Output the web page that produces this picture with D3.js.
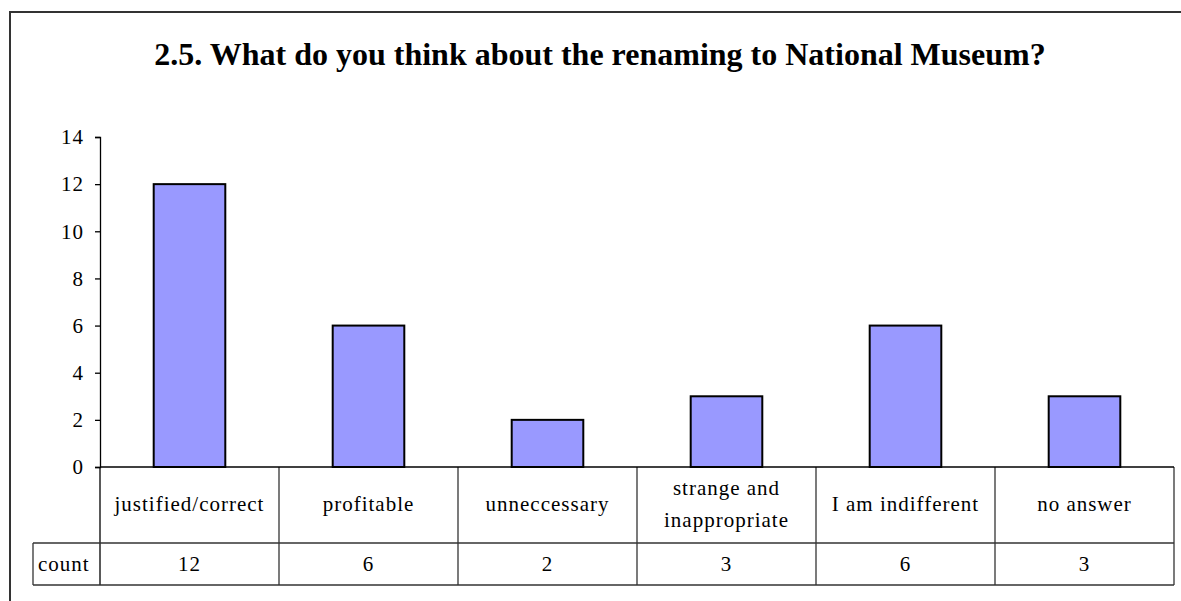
<!DOCTYPE html>
<html>
<head>
<meta charset="utf-8">
<script src="https://cdn.jsdelivr.net/npm/d3@7"></script>
<style>
  html, body { margin: 0; padding: 0; background: #fff; }
  svg text { font-family: "Liberation Serif", "Times New Roman", serif; fill: #000; }
</style>
</head>
<body>
<svg id="chart" width="1181" height="601"></svg>
<script>
// Survey answers and counts
const categories = [
  "justified/correct",
  "profitable",
  "unneccessary",
  "strange and inappropriate",
  "I am indifferent",
  "no answer"
];
const counts = [12, 6, 2, 3, 6, 3];
const seriesName = "count";
const yTicks = [0, 2, 4, 6, 8, 10, 12, 14];
const titleText = "2.5. What do you think about the renaming to National Museum?";

// Label line breaks used inside the data table
const categoryLines = {
  "strange and inappropriate": ["strange and", "inappropriate"]
};

const svg = d3.select("#chart");

// Outer chart frame
svg.append("rect")
  .attr("x", 10).attr("y", 12)
  .attr("width", 1190).attr("height", 620)
  .attr("fill", "none")
  .attr("stroke", "#333")
  .attr("stroke-width", 2);

// Plot geometry
const plotLeft = 100, plotRight = 1174, plotTop = 137, plotBottom = 467;
const catRowBottom = 543, countRowBottom = 585, labelCellLeft = 33;

const y = d3.scaleLinear().domain([0, 14]).range([plotBottom, plotTop]);

// Columns of the data table
const xCol = d3.scaleBand().domain(categories).range([plotLeft, plotRight]).padding(0);
// Bars inside each column
const xBar = d3.scaleBand().domain(categories).range([plotLeft, plotRight])
  .paddingInner(0.6).paddingOuter(0.3);

// Title
svg.append("text")
  .attr("x", 600).attr("y", 65)
  .attr("text-anchor", "middle")
  .style("font-size", "32px")
  .style("font-weight", "bold")
  .text(titleText);

// Y axis
const yAxis = d3.axisLeft(y).tickValues(yTicks).tickSize(5).tickPadding(11);
const gy = svg.append("g")
  .attr("transform", `translate(${plotLeft},0)`)
  .call(yAxis);
gy.attr("font-family", null).attr("font-size", null);
gy.select(".domain").attr("stroke", "#000").attr("stroke-width", 1.3);
gy.selectAll(".tick line").attr("stroke", "#000").attr("stroke-width", 1.3);
gy.selectAll(".tick text")
  .style("font-size", "21px")
  .style("letter-spacing", "1px");

// Bars
svg.append("g").selectAll("rect")
  .data(categories)
  .join("rect")
  .attr("x", d => xBar(d))
  .attr("y", (d, i) => y(counts[i]))
  .attr("width", xBar.bandwidth())
  .attr("height", (d, i) => y(0) - y(counts[i]))
  .attr("fill", "#9999FF")
  .attr("stroke", "#000")
  .attr("stroke-width", 2);

// Data table grid
const grid = svg.append("g").attr("stroke", "#333").attr("stroke-width", 1.3).attr("fill", "none");
// vertical column separators
grid.selectAll("line.col")
  .data(categories)
  .join("line")
  .attr("class", "col")
  .attr("x1", d => xCol(d) + xCol.bandwidth())
  .attr("x2", d => xCol(d) + xCol.bandwidth())
  .attr("y1", plotBottom).attr("y2", countRowBottom);
// y axis continues through the table
grid.append("line")
  .attr("x1", plotLeft).attr("x2", plotLeft)
  .attr("y1", plotBottom).attr("y2", countRowBottom)
  .attr("stroke", "#000");
// row lines
grid.append("line")
  .attr("x1", labelCellLeft).attr("x2", plotRight)
  .attr("y1", catRowBottom).attr("y2", catRowBottom);
grid.append("line")
  .attr("x1", labelCellLeft).attr("x2", plotRight)
  .attr("y1", countRowBottom).attr("y2", countRowBottom);
grid.append("line")
  .attr("x1", labelCellLeft).attr("x2", labelCellLeft)
  .attr("y1", catRowBottom).attr("y2", countRowBottom);
// category axis baseline
svg.append("line")
  .attr("x1", plotLeft).attr("x2", plotRight)
  .attr("y1", plotBottom).attr("y2", plotBottom)
  .attr("stroke", "#000").attr("stroke-width", 1.5);

// Category labels
const catMid = (plotBottom + catRowBottom) / 2;
const lineGap = 32;
const catText = svg.append("g")
  .style("font-size", "21px")
  .style("letter-spacing", "1px")
  .attr("text-anchor", "middle");
categories.forEach(c => {
  const lines = categoryLines[c] || [c];
  const t = catText.append("text")
    .attr("x", xCol(c) + xCol.bandwidth() / 2);
  lines.forEach((ln, k) => {
    const yy = catMid + 6 + (k - (lines.length - 1) / 2) * lineGap;
    t.append("tspan")
      .attr("x", xCol(c) + xCol.bandwidth() / 2)
      .attr("y", yy)
      .text(ln);
  });
});

// Count row
const countMid = (catRowBottom + countRowBottom) / 2;
const countText = svg.append("g")
  .style("font-size", "21px")
  .style("letter-spacing", "1px");
countText.append("text")
  .attr("x", labelCellLeft + 5)
  .attr("y", countMid + 7)
  .text(seriesName);
countText.selectAll("text.val")
  .data(categories)
  .join("text")
  .attr("class", "val")
  .attr("text-anchor", "middle")
  .attr("x", d => xCol(d) + xCol.bandwidth() / 2)
  .attr("y", countMid + 7)
  .text((d, i) => counts[i]);
</script>
</body>
</html>
